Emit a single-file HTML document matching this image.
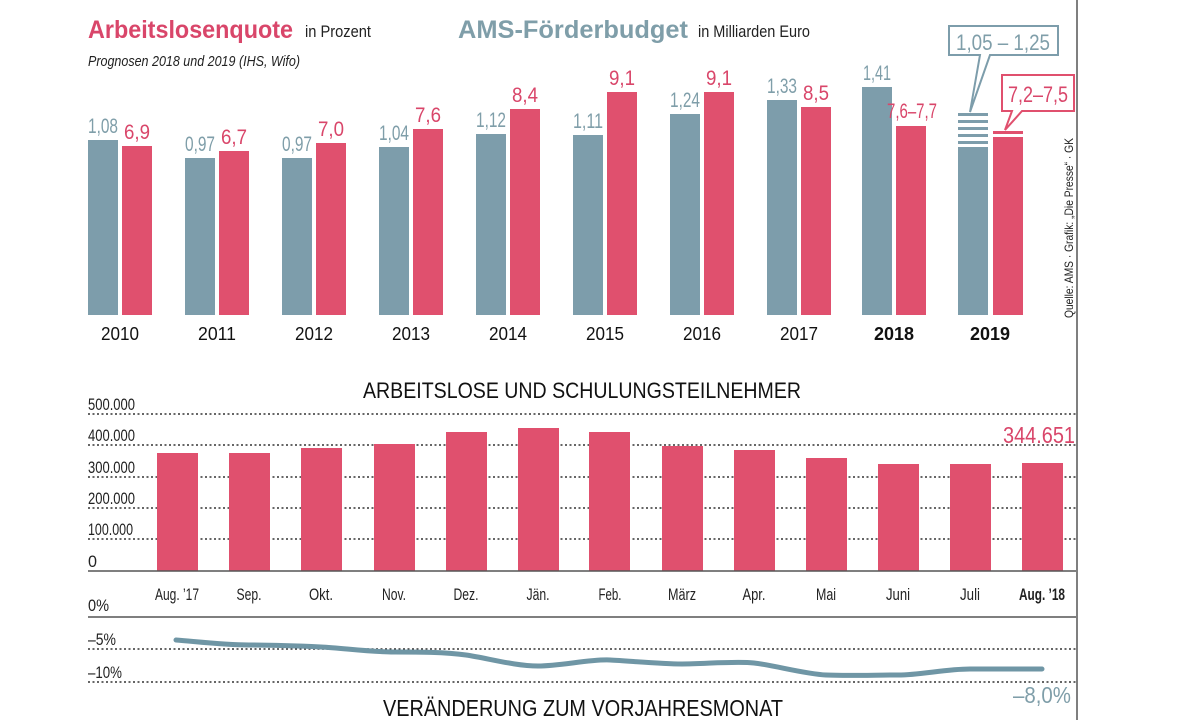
<!DOCTYPE html>
<html><head><meta charset="utf-8"><style>
html,body{margin:0;padding:0;background:#fff;width:1200px;height:720px;overflow:hidden}
svg{display:block;font-family:"Liberation Sans",sans-serif}
</style></head><body>
<svg width="1200" height="720" viewBox="0 0 1200 720" xmlns="http://www.w3.org/2000/svg">
<line x1="1077" y1="0" x2="1077" y2="720" stroke="#555" stroke-width="1.5"/>
<text x="88" y="38" font-size="25" font-weight="bold" fill="#d9466a" textLength="205" lengthAdjust="spacingAndGlyphs">Arbeitslosenquote</text>
<text x="305" y="37" font-size="17" fill="#222" textLength="66" lengthAdjust="spacingAndGlyphs">in Prozent</text>
<text x="88" y="66" font-size="15" font-style="italic" fill="#222" textLength="212" lengthAdjust="spacingAndGlyphs">Prognosen 2018 und 2019 (IHS, Wifo)</text>
<text x="458" y="38" font-size="25" font-weight="bold" fill="#7f9ea9" textLength="230" lengthAdjust="spacingAndGlyphs">AMS-Förderbudget</text>
<text x="698" y="37" font-size="17" fill="#222" textLength="112" lengthAdjust="spacingAndGlyphs">in Milliarden Euro</text>
<g fill="#7d9dab">
<rect x="88" y="140" width="30" height="175"/><rect x="185" y="158" width="30" height="157"/><rect x="282" y="158" width="30" height="157"/><rect x="379" y="147" width="30" height="168"/><rect x="476" y="134" width="30" height="181"/><rect x="573" y="135" width="30" height="180"/><rect x="670" y="114" width="30" height="201"/><rect x="767" y="100" width="30" height="215"/><rect x="862" y="87" width="30" height="228"/><rect x="958" y="147" width="30" height="168"/>
<rect x="958" y="113" width="30" height="3"/><rect x="958" y="120" width="30" height="3"/><rect x="958" y="127" width="30" height="3"/><rect x="958" y="134" width="30" height="3"/><rect x="958" y="141" width="30" height="3"/>
</g>
<g fill="#e0506e">
<rect x="122" y="146" width="30" height="169"/><rect x="219" y="151" width="30" height="164"/><rect x="316" y="143" width="30" height="172"/><rect x="413" y="129" width="30" height="186"/><rect x="510" y="109" width="30" height="206"/><rect x="607" y="92" width="30" height="223"/><rect x="704" y="92" width="30" height="223"/><rect x="801" y="107" width="30" height="208"/><rect x="896" y="126" width="30" height="189"/><rect x="993" y="137" width="30" height="178"/><rect x="993" y="131" width="30" height="3"/>
</g>
<g font-size="21" fill="#7f9ea9" text-anchor="middle">
<text x="103" y="133" textLength="30" lengthAdjust="spacingAndGlyphs">1,08</text><text x="200" y="151" textLength="30" lengthAdjust="spacingAndGlyphs">0,97</text><text x="297" y="151" textLength="30" lengthAdjust="spacingAndGlyphs">0,97</text><text x="394" y="140" textLength="30" lengthAdjust="spacingAndGlyphs">1,04</text><text x="491" y="127" textLength="30" lengthAdjust="spacingAndGlyphs">1,12</text><text x="588" y="128" textLength="30" lengthAdjust="spacingAndGlyphs">1,11</text><text x="685" y="107" textLength="30" lengthAdjust="spacingAndGlyphs">1,24</text><text x="782" y="93" textLength="30" lengthAdjust="spacingAndGlyphs">1,33</text><text x="877" y="80" textLength="28" lengthAdjust="spacingAndGlyphs">1,41</text>
</g>
<g font-size="21" fill="#d9466a" text-anchor="middle">
<text x="137" y="139" textLength="26" lengthAdjust="spacingAndGlyphs">6,9</text><text x="234" y="144" textLength="26" lengthAdjust="spacingAndGlyphs">6,7</text><text x="331" y="136" textLength="26" lengthAdjust="spacingAndGlyphs">7,0</text><text x="428" y="122" textLength="26" lengthAdjust="spacingAndGlyphs">7,6</text><text x="525" y="102" textLength="26" lengthAdjust="spacingAndGlyphs">8,4</text><text x="622" y="85" textLength="26" lengthAdjust="spacingAndGlyphs">9,1</text><text x="719" y="85" textLength="26" lengthAdjust="spacingAndGlyphs">9,1</text><text x="816" y="100" textLength="26" lengthAdjust="spacingAndGlyphs">8,5</text><text x="912" y="118" textLength="50" lengthAdjust="spacingAndGlyphs">7,6–7,7</text>
</g>
<path d="M949 26 H1058 V55 H990 L970 112 L980 55 H949 Z" fill="#fff" stroke="#7d9dab" stroke-width="2"/>
<text x="1003" y="50" font-size="22" fill="#7f9ea9" text-anchor="middle" textLength="94" lengthAdjust="spacingAndGlyphs">1,05 – 1,25</text>
<path d="M1002 75 H1074 V111 H1022 L1005 130 L1012 111 H1002 Z" fill="#fff" stroke="#e0506e" stroke-width="2"/>
<text x="1038" y="102" font-size="22" fill="#d9466a" text-anchor="middle" textLength="60" lengthAdjust="spacingAndGlyphs">7,2–7,5</text>
<text transform="translate(1073,318) rotate(-90)" font-size="12" fill="#222" textLength="180" lengthAdjust="spacingAndGlyphs">Quelle: AMS · Grafik: „Die Presse“ · GK</text>
<g font-size="18" fill="#111" text-anchor="middle">
<text x="120" y="340" textLength="38" lengthAdjust="spacingAndGlyphs">2010</text><text x="217" y="340" textLength="38" lengthAdjust="spacingAndGlyphs">2011</text><text x="314" y="340" textLength="38" lengthAdjust="spacingAndGlyphs">2012</text><text x="411" y="340" textLength="38" lengthAdjust="spacingAndGlyphs">2013</text><text x="508" y="340" textLength="38" lengthAdjust="spacingAndGlyphs">2014</text><text x="605" y="340" textLength="38" lengthAdjust="spacingAndGlyphs">2015</text><text x="702" y="340" textLength="38" lengthAdjust="spacingAndGlyphs">2016</text><text x="799" y="340" textLength="38" lengthAdjust="spacingAndGlyphs">2017</text><text x="894" y="340" font-weight="bold" textLength="40" lengthAdjust="spacingAndGlyphs">2018</text><text x="990" y="340" font-weight="bold" textLength="40" lengthAdjust="spacingAndGlyphs">2019</text>
</g>
<text x="582" y="398" font-size="22" fill="#111" text-anchor="middle" textLength="438" lengthAdjust="spacingAndGlyphs">ARBEITSLOSE UND SCHULUNGSTEILNEHMER</text>
<g stroke="#333" stroke-width="1.5" stroke-dasharray="2,2.5">
<line x1="88" y1="414" x2="1076" y2="414"/><line x1="88" y1="445" x2="1076" y2="445"/><line x1="88" y1="477" x2="1076" y2="477"/><line x1="88" y1="508" x2="1076" y2="508"/><line x1="88" y1="539" x2="1076" y2="539"/>
<line x1="88" y1="649" x2="1076" y2="649"/><line x1="88" y1="682" x2="1076" y2="682"/>
</g>
<g font-size="17" fill="#222">
<text x="88" y="410" textLength="47" lengthAdjust="spacingAndGlyphs">500.000</text><text x="88" y="441" textLength="47" lengthAdjust="spacingAndGlyphs">400.000</text><text x="88" y="473" textLength="47" lengthAdjust="spacingAndGlyphs">300.000</text><text x="88" y="504" textLength="47" lengthAdjust="spacingAndGlyphs">200.000</text><text x="88" y="535" textLength="45" lengthAdjust="spacingAndGlyphs">100.000</text><text x="88" y="567" textLength="9" lengthAdjust="spacingAndGlyphs">0</text>
<text x="88" y="611" textLength="21" lengthAdjust="spacingAndGlyphs">0%</text><text x="88" y="645" textLength="28" lengthAdjust="spacingAndGlyphs">–5%</text><text x="88" y="678" textLength="34" lengthAdjust="spacingAndGlyphs">–10%</text>
</g>
<g fill="#e0506e">
<rect x="157" y="453" width="41" height="118"/><rect x="229" y="453" width="41" height="118"/><rect x="301" y="448" width="41" height="123"/><rect x="374" y="444" width="41" height="127"/><rect x="446" y="432" width="41" height="139"/><rect x="518" y="428" width="41" height="143"/><rect x="589" y="432" width="41" height="139"/><rect x="662" y="446" width="41" height="125"/><rect x="734" y="450" width="41" height="121"/><rect x="806" y="458" width="41" height="113"/><rect x="878" y="464" width="41" height="107"/><rect x="950" y="464" width="41" height="107"/><rect x="1022" y="463" width="41" height="108"/>
</g>
<text x="1075" y="443" font-size="23" fill="#d9466a" text-anchor="end" textLength="72" lengthAdjust="spacingAndGlyphs">344.651</text>
<line x1="88" y1="571" x2="1076" y2="571" stroke="#555" stroke-width="1.5"/>
<line x1="88" y1="617" x2="1076" y2="617" stroke="#555" stroke-width="1.5"/>
<g font-size="17" fill="#222" text-anchor="middle">
<text x="177" y="600" textLength="44" lengthAdjust="spacingAndGlyphs">Aug. ’17</text><text x="249" y="600" textLength="25" lengthAdjust="spacingAndGlyphs">Sep.</text><text x="321" y="600" textLength="24" lengthAdjust="spacingAndGlyphs">Okt.</text><text x="394" y="600" textLength="24" lengthAdjust="spacingAndGlyphs">Nov.</text><text x="466" y="600" textLength="25" lengthAdjust="spacingAndGlyphs">Dez.</text><text x="538" y="600" textLength="23" lengthAdjust="spacingAndGlyphs">Jän.</text><text x="610" y="600" textLength="23" lengthAdjust="spacingAndGlyphs">Feb.</text><text x="682" y="600" textLength="28" lengthAdjust="spacingAndGlyphs">März</text><text x="754" y="600" textLength="23" lengthAdjust="spacingAndGlyphs">Apr.</text><text x="826" y="600" textLength="20" lengthAdjust="spacingAndGlyphs">Mai</text><text x="898" y="600" textLength="24" lengthAdjust="spacingAndGlyphs">Juni</text><text x="970" y="600" textLength="20" lengthAdjust="spacingAndGlyphs">Juli</text><text x="1042" y="600" font-weight="bold" textLength="46" lengthAdjust="spacingAndGlyphs">Aug. ’18</text>
</g>
<path d="M176 640 C200 642,225 645,249 645 S300 646,321 647 S370 652,394 652 S445 652,466 655 S515 666,538 666 S590 659,610 660 S660 664,682 664 S735 661,754 663 S805 674,826 675 S875 675,898 675 S945 669,970 669 S1020 669,1042 669" fill="none" stroke="#6f96a5" stroke-width="5" stroke-linecap="round"/>
<text x="1071" y="703" font-size="23" fill="#7f9ea9" text-anchor="end" textLength="58" lengthAdjust="spacingAndGlyphs">–8,0%</text>
<text x="583" y="716" font-size="23" fill="#111" text-anchor="middle" textLength="400" lengthAdjust="spacingAndGlyphs">VERÄNDERUNG ZUM VORJAHRESMONAT</text>
</svg>
</body></html>
